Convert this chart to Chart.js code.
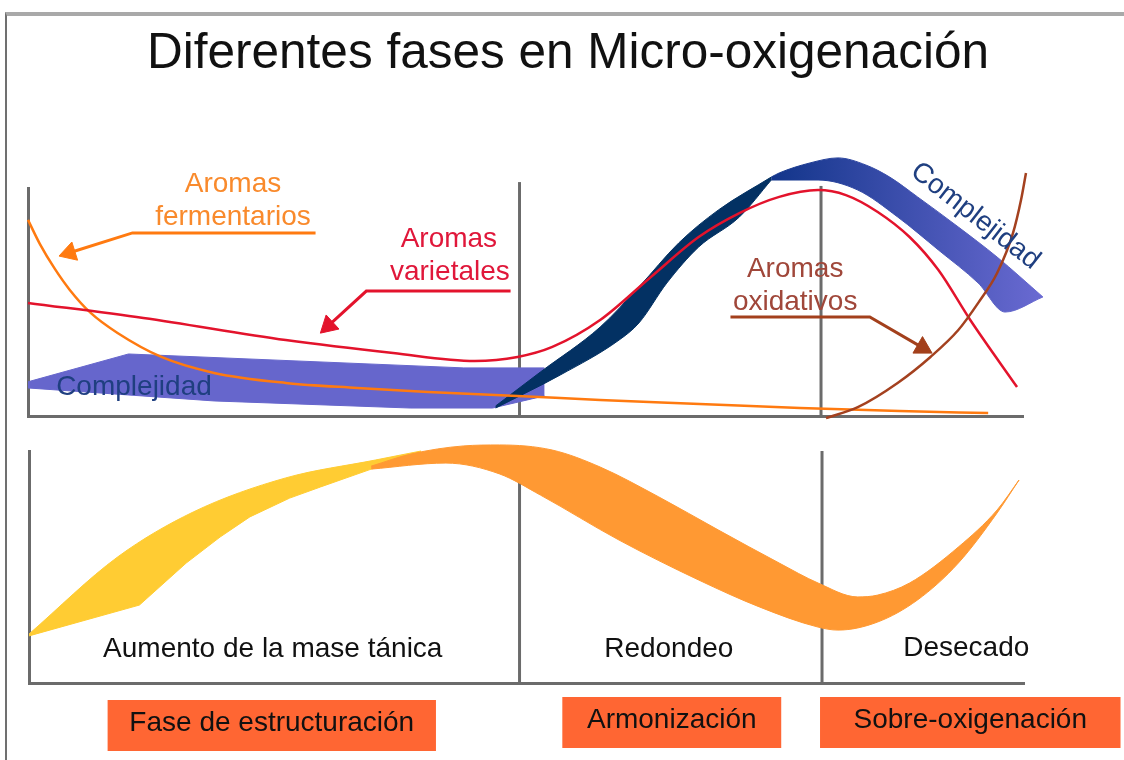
<!DOCTYPE html>
<html><head><meta charset="utf-8">
<script src="https://cdn.jsdelivr.net/npm/chart.js@4/dist/chart.umd.min.js"></script>
<style>
html,body{margin:0;padding:0;background:#fff;}
body{width:1124px;height:760px;position:relative;overflow:hidden;}
#frame{position:absolute;left:5px;top:12px;width:1130px;height:760px;border-top:4px solid #a9a9a9;border-left:2px solid #707070;box-sizing:border-box;}
#top{position:absolute;left:0;top:0;}
#bot{position:absolute;left:0;top:430px;}
</style></head><body>
<div id="frame"></div>
<canvas id="top" width="1124" height="440"></canvas>
<canvas id="bot" width="1124" height="330"></canvas>
<script>
// ---------- DATA (x: time 0-100, y: relative intensity 0-100) ----------
const titleText = 'Diferentes fases en Micro-oxigenación';

// Top panel series
const fermX = [0, 1.2, 2.7, 4.2, 6.3, 9.0, 13.4, 18.7, 25.9, 33.1, 40.2, 49.2, 57.5, 67.5, 77.6, 87.6, 96.5];
const fermY = [86.0, 75.4, 64.5, 55.3, 45.2, 36.4, 25.9, 18.9, 14.5, 12.3, 10.5, 8.8, 7.0, 5.3, 3.5, 2.2, 1.3];

const varX = [0, 11.6, 25.9, 36.7, 44.9, 49.2, 52.7, 57.5, 62.6, 67.4, 71.5, 75.5, 79.4, 82.2, 85.4, 88.6, 91.5, 94.7, 99.4];
const varY = [49.6, 43.0, 33.3, 27.6, 24.1, 25.9, 30.3, 42.1, 61.0, 78.5, 89.0, 96.1, 99.1, 96.9, 89.5, 78.5, 64.0, 42.1, 12.7];

const oxiX = [80.2, 83.4, 87.4, 90.7, 93.5, 95.5, 97.4, 99.0, 99.8, 100.3];
const oxiY = [-0.9, 3.9, 14.5, 25.9, 37.7, 49.6, 62.7, 80.3, 94.7, 106.6];

// Complejidad band (three parts: upper / lower edges)
const compLightTopX = [0, 10.1, 43.8, 51.9];
const compLightTopY = [15.0, 27.2, 21.1, 21.1];
const compLightBotX = [0, 18.7, 38.4, 46.7, 51.9];
const compLightBotY = [12.3, 6.6, 3.5, 3.5, 8.8];

const compDarkTopX = [47.0, 51.5, 57.5, 61.4, 65.4, 69.4, 74.7];
const compDarkTopY = [4.4, 19.3, 39.0, 56.6, 75.9, 90.4, 104.8];
const compDarkBotX = [47.0, 53.5, 59.4, 61.4, 64.2, 67.4, 71.5, 74.7];
const compDarkBotY = [3.5, 18.0, 33.3, 40.8, 58.3, 74.1, 87.3, 103.5];

const compHighTopX = [74.7, 75.5, 78.6, 81.4, 84.2, 86.6, 89.4, 93.5, 97.4, 102.0];
const compHighTopY = [104.8, 106.6, 111.0, 113.2, 110.1, 104.8, 96.1, 82.9, 69.7, 52.2];
const compHighBotX = [74.7, 79.4, 83.4, 87.4, 91.5, 95.5, 98.2, 102.0];
const compHighBotY = [103.5, 103.5, 99.1, 87.3, 72.8, 58.3, 45.6, 52.2];

// Phase dividers (x values)
const dividerX = [49.4, 79.7];
const dividerTopY = [102.6, 100.9];

// Annotation arrows (label leader lines)
const fermArrowX = [28.9, 10.5, 4.17];
const fermArrowY = [80.3, 80.3, 71.6];
const varArrowX = [48.5, 34.0, 30.2];
const varArrowY = [54.8, 54.8, 39.6];
const oxiArrowX = [70.6, 84.6, 89.9];
const oxiArrowY = [43.4, 43.4, 30.0];

// Bottom panel: masa tánica band
const yellowTopX = [0, 8.9, 16.5, 25.8, 34.8, 39.4];
const yellowTopY = [21.1, 54.3, 73.7, 88.4, 96.1, 100.0];
const yellowBotX = [0, 11.1, 15.8, 19.2, 22.2, 26.2, 29.3, 34.4, 39.4];
const yellowBotY = [20.3, 33.6, 51.7, 62.9, 71.6, 79.7, 84.5, 92.2, 98.3];

const orangeTopX = [34.4, 38.4, 43.7, 47.3, 52.6, 57.4, 63.3, 69.3, 75.4, 79.3, 83.3, 85.3, 88.5, 93.4, 97.3, 99.5];
const orangeTopY = [93.5, 98.7, 102.2, 102.6, 100.4, 93.1, 80.2, 65.9, 51.7, 43.1, 37.1, 37.9, 43.1, 58.6, 74.6, 87.5];
const orangeBotX = [34.4, 41.9, 47.3, 51.4, 59.3, 67.3, 73.4, 79.3, 81.3, 85.3, 89.3, 93.4, 97.3, 99.5];
const orangeBotY = [92.2, 94.8, 90.1, 81.0, 61.6, 44.4, 32.8, 24.1, 22.8, 26.3, 35.8, 51.7, 73.3, 87.5];

const bottomDividerX = [49.3, 79.7];

// Stage and phase names
const stageNames = ['Aumento de la mase tánica', 'Redondeo', 'Desecado'];
const stageCenterX = [24.5, 64.3, 94.2];
const phaseNames = ['Fase de estructuración', 'Armonización', 'Sobre-oxigenación'];
const phaseStart = [7.9, 53.6, 79.5];
const phaseEnd = [40.9, 75.6, 109.7];

// ---------- helpers ----------
const FONT = '"Liberation Sans", Arial, Helvetica, sans-serif';
const pts = (xs, ys) => xs.map((x, i) => ({x, y: ys[i]}));

function curve(label, xs, ys, color, width, order) {
  return {label, data: pts(xs, ys), borderColor: color, borderWidth: width, pointRadius: 0,
    fill: false, cubicInterpolationMode: 'monotone', capBezierPoints: false, order, clip: false};
}
function edgeOpts(color, smooth) {
  const o = {pointRadius: 0, clip: false, borderWidth: 1, borderColor: color, backgroundColor: color,
    fill: false, capBezierPoints: false};
  if (smooth) o.cubicInterpolationMode = 'monotone'; else o.tension = 0;
  return o;
}
// upper edge gets fillToNext -> filled down to the following (lower-edge) dataset
function band(label, tx, ty, bx, by, color, order, smoothTop, smoothBot) {
  return [
    Object.assign({label: label + ' sup', data: pts(tx, ty), fillToNext: true, order}, edgeOpts(color, smoothTop)),
    Object.assign({label: label + ' inf', data: pts(bx, by), order: order + 0.5}, edgeOpts(color, smoothBot))
  ];
}
function vline(label, x, y1, order) {
  return {label, data: [{x, y: 0}, {x, y: y1}], borderColor: '#6b6b6b', borderWidth: 3,
    pointRadius: 0, fill: false, tension: 0, order, clip: false};
}
function arrow(label, xs, ys, color, rot) {
  const n = xs.length;
  return {label, data: pts(xs, ys), borderColor: color, borderWidth: 3, tension: 0, fill: false,
    pointStyle: 'triangle', pointRotation: rot,
    pointRadius: c => c.dataIndex === n - 1 ? 11 : 0,
    pointBackgroundColor: color, pointBorderColor: color, pointBorderWidth: 1,
    borderJoinStyle: 'miter', order: 0, clip: false};
}
// fills the area between a band's upper edge line and its lower edge line (not clipped to the chart area)
const bandFillPlugin = {
  id: 'bandFill',
  beforeDatasetDraw(chart, args) {
    const ds = chart.data.datasets[args.index];
    if (!ds.fillToNext) return;
    const upper = args.meta.dataset;
    const lower = chart.getDatasetMeta(args.index + 1).dataset;
    if (!upper || !lower) return;
    upper.updateControlPoints(chart.chartArea, 'x');
    lower.updateControlPoints(chart.chartArea, 'x');
    const ctx = chart.ctx;
    ctx.save();
    ctx.beginPath();
    let first = true;
    for (const seg of upper.segments) { upper.pathSegment(ctx, seg, {move: first}); first = false; }
    for (const seg of lower.segments.slice().reverse()) lower.pathSegment(ctx, seg, {move: false, reverse: true});
    ctx.closePath();
    ctx.fillStyle = upper.options.backgroundColor;
    ctx.fill();
    ctx.restore();
  }
};
function textPlugin(id, items) {
  return {id, afterDatasetsDraw(chart) {
    const {ctx, scales: {x, y}} = chart;
    for (const l of items) {
      ctx.save();
      ctx.font = (l.size || 28) + 'px ' + FONT;
      ctx.fillStyle = l.color;
      ctx.textAlign = l.align || 'center';
      ctx.textBaseline = l.baseline || 'alphabetic';
      ctx.translate(x.getPixelForValue(l.x), y.getPixelForValue(l.y));
      if (l.rotate) ctx.rotate(l.rotate * Math.PI / 180);
      ctx.fillText(l.text, 0, 0);
      ctx.restore();
    }
  }};
}
const axisOpts = (extra) => Object.assign({type: 'linear', display: true,
  grid: {display: false, drawTicks: false}, ticks: {display: false},
  border: {display: true, color: '#6b6b6b', width: 3}}, extra);

const ORANGE = '#ff7a10', RED = '#e3132c', BROWN = '#a4411f';
const NAVY_TXT = '#1f3f80';

// ---------- TOP CHART ----------
const topDatasets = [
  arrow('flecha fermentarios', fermArrowX, fermArrowY, ORANGE, 252.5),
  arrow('flecha varietales', varArrowX, varArrowY, RED, 227.6),
  arrow('flecha oxidativos', oxiArrowX, oxiArrowY, '#a3401c', 120),
  curve('Aromas oxidativos', oxiX, oxiY, BROWN, 2.5, 1),
  curve('Aromas varietales', varX, varY, RED, 2.5, 2),
  curve('Aromas fermentarios', fermX, fermY, ORANGE, 2.5, 3),
  ...band('Complejidad alta', compHighTopX, compHighTopY, compHighBotX, compHighBotY, '#3f4fb0', 4, true, true),
  ...band('Complejidad media', compDarkTopX, compDarkTopY, compDarkBotX, compDarkBotY, '#033163', 6, true, true),
  ...band('Complejidad baja', compLightTopX, compLightTopY, compLightBotX, compLightBotY, '#6666cc', 8, false, false),
  vline('div1', dividerX[0], dividerTopY[0], 10),
  vline('div2', dividerX[1], dividerTopY[1], 10)
];
const grad = (c) => {
  const ch = c.chart;
  if (!ch.chartArea) return '#3f4fb0';
  const xs = ch.scales.x;
  const g = ch.ctx.createLinearGradient(xs.getPixelForValue(74.7), 0, xs.getPixelForValue(102), 0);
  g.addColorStop(0, '#12358a');
  g.addColorStop(1, '#6a6ad2');
  return g;
};
topDatasets[6].backgroundColor = grad; topDatasets[6].borderColor = grad;
topDatasets[7].backgroundColor = grad; topDatasets[7].borderColor = grad;

const topLabels = [
  {text: 'Aromas', x: 20.6, y: 98.2, color: '#f98a2c'},
  {text: 'fermentarios', x: 20.6, y: 83.8, color: '#f98a2c'},
  {text: 'Aromas', x: 42.3, y: 74.1, color: '#e0173a'},
  {text: 'varietales', x: 42.4, y: 59.6, color: '#e0173a'},
  {text: 'Aromas', x: 77.1, y: 61.0, color: '#a0473a'},
  {text: 'oxidativos', x: 77.1, y: 46.5, color: '#a0473a'},
  {text: 'Complejidad', x: 10.65, y: 9.2, color: NAVY_TXT},
  {text: 'Complejidad', x: 95.2, y: 87.7, color: NAVY_TXT, rotate: 38, baseline: 'middle'}
];

new Chart(document.getElementById('top'), {
  type: 'line',
  data: {datasets: topDatasets},
  options: {
    responsive: false, animation: false, events: [],
    layout: {padding: {left: 12, right: 0, top: 0, bottom: 24}},
    plugins: {
      legend: {display: false}, tooltip: {enabled: false},
      title: {display: true, text: titleText, color: '#111',
        font: {family: FONT, size: 49.5, weight: 'normal', lineHeight: 1.2},
        padding: {top: 25, bottom: 103.6}}
    },
    scales: {
      x: axisOpts({min: 0, max: 100, position: 'bottom'}),
      y: axisOpts({min: 0, max: 100, position: 'left', afterFit: s => { s.width = 16; }}),
      yr: axisOpts({position: 'right', border: {display: false}, afterFit: s => { s.width = 101; }})
    }
  },
  plugins: [bandFillPlugin, textPlugin('topText', topLabels)]
});

// ---------- BOTTOM CHART ----------
const botDatasets = [
  ...band('Masa tánica (armonización)', orangeTopX, orangeTopY, orangeBotX, orangeBotY, '#ff9933', 4, true, true),
  ...band('Masa tánica (estructuración)', yellowTopX, yellowTopY, yellowBotX, yellowBotY, '#ffcc33', 6, true, false),
  vline('div1', bottomDividerX[0], 100, 10),
  vline('div2', bottomDividerX[1], 100, 10)
];
const botLabels = stageNames.map((t, i) => ({text: t, x: stageCenterX[i], y: i === 2 ? 11.6 : 11.2, color: '#111'}));

const phasePlugin = {
  id: 'phases',
  afterDraw(chart) {
    const {ctx, chartArea, scales: {x}} = chart;
    phaseNames.forEach((name, i) => {
      const x0 = x.getPixelForValue(phaseStart[i]);
      const x1 = x.getPixelForValue(phaseEnd[i]);
      const top = chartArea.bottom + (i === 0 ? 17 : 14);
      ctx.save();
      ctx.fillStyle = '#ff6633';
      ctx.fillRect(x0, top, x1 - x0, 51);
      ctx.fillStyle = '#111';
      ctx.font = '28px ' + FONT;
      ctx.textAlign = 'center';
      ctx.textBaseline = 'alphabetic';
      ctx.fillText(name, (x0 + x1) / 2, top + 31);
      ctx.restore();
    });
  }
};

new Chart(document.getElementById('bot'), {
  type: 'line',
  data: {datasets: botDatasets},
  options: {
    responsive: false, animation: false, events: [],
    layout: {padding: {left: 29, right: 100, top: 21, bottom: 77}},
    plugins: {legend: {display: false}, tooltip: {enabled: false}},
    scales: {
      x: axisOpts({min: 0, max: 100, position: 'bottom'}),
      y: axisOpts({min: 0, max: 100, position: 'left'})
    }
  },
  plugins: [bandFillPlugin, textPlugin('botText', botLabels), phasePlugin]
});
</script></body></html>
